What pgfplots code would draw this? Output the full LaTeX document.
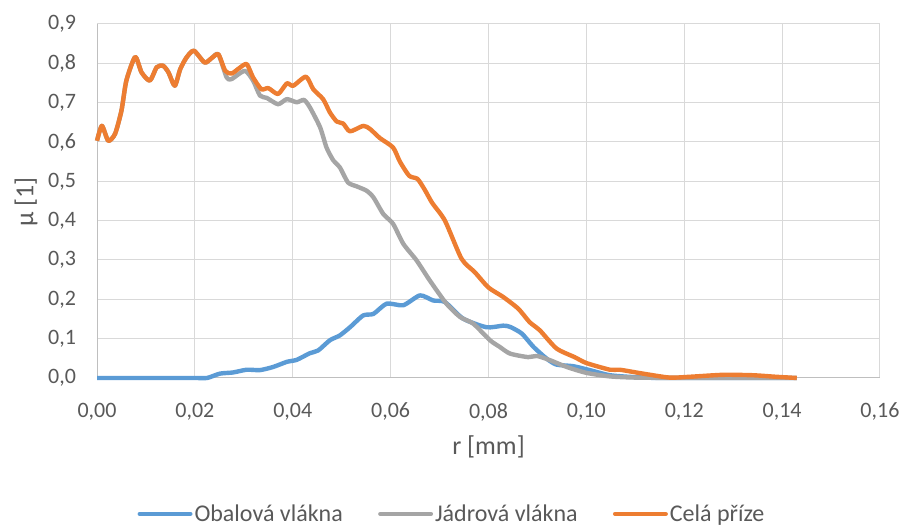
\documentclass[border=0pt]{standalone}
\usepackage{fontspec}
\setmainfont{Carlito}
\usepackage{pgfplots}
\pgfplotsset{compat=1.18}
\definecolor{obal}{HTML}{5B9BD5}
\definecolor{jadro}{HTML}{A5A5A5}
\definecolor{cela}{HTML}{ED7D31}
\definecolor{gridc}{HTML}{D9D9D9}
\definecolor{axc}{HTML}{BFBFBF}
\definecolor{txt}{HTML}{595959}

\begin{document}
\begin{tikzpicture}
\begin{axis}[
  scale only axis,
  width=587.25pt, height=265.5pt,
  xmin=0, xmax=0.16, ymin=0, ymax=0.9,
  xtick={0,0.02,...,0.16},
  ytick={0,0.1,...,0.9},
  xticklabel style={/pgf/number format/fixed, /pgf/number format/fixed zerofill,
    /pgf/number format/precision=2, /pgf/number format/use comma,
    anchor=center, yshift=-25.5pt},
  yticklabel style={/pgf/number format/fixed, /pgf/number format/fixed zerofill,
    /pgf/number format/precision=1, /pgf/number format/use comma, xshift=-12.3pt},
  scaled x ticks=false,
  /pgf/number format/assume math mode=true,
  tick label style={font=\fontsize{16.5}{19}\selectfont, text=txt},
  major tick length=0pt,
  grid=major, grid style={gridc, line width=0.75pt},
  axis x line=bottom, axis y line=left,
  axis line style={-, axc, line width=0.75pt},
  xlabel={r [mm]}, ylabel={μ [1]},
  label style={font=\fontsize{19.5}{22}\selectfont, text=txt},
  xlabel style={at={(axis description cs:0.5,-0.196)}, anchor=center},
  ylabel style={at={(axis description cs:-0.0907,0.497)}, anchor=center},
  legend columns=3,
  legend style={at={(axis description cs:0.4534,-0.384)}, anchor=center,
    draw=none, fill=none, inner sep=0pt,
    font=\fontsize{18}{21}\selectfont, text=txt,
    /tikz/every even column/.append style={column sep=25pt},
    nodes={inner sep=1.5pt}},
  legend image code/.code={\draw[#1, line width=3.2pt, line cap=round] (1.6pt,0pt) -- (39.6pt,0pt);},
  every axis plot/.append style={line width=3.3pt, line join=round, smooth, tension=0.4},
  clip=false,
]
% Obalova vlakna
\addplot[obal] coordinates {
(0,0)(0.005,0)(0.010,0)(0.015,0)(0.020,0)(0.0225,0)(0.0251,0.011)(0.0278,0.014)
(0.0306,0.021)(0.0333,0.020)(0.0360,0.028)(0.0388,0.041)(0.0408,0.046)(0.0435,0.063)
(0.0452,0.070)(0.0476,0.096)(0.0496,0.108)(0.0517,0.129)(0.0544,0.159)(0.0565,0.163)
(0.0592,0.189)(0.0626,0.185)(0.0660,0.210)(0.0687,0.197)(0.0711,0.193)(0.0748,0.151)
(0.0796,0.129)(0.0830,0.133)(0.0844,0.130)(0.0868,0.113)(0.0892,0.079)(0.0919,0.049)
(0.0939,0.034)(0.0973,0.030)(0.1007,0.020)(0.1048,0.007)(0.1100,0.002)(0.1150,0)
(0.1250,0)(0.1350,0)(0.1430,0)
};
% Jadrova vlakna
\addplot[jadro] coordinates {
(0,0.603)(0.0010,0.641)(0.0023,0.603)(0.0037,0.621)(0.0050,0.680)(0.0060,0.756)
(0.0078,0.816)(0.0091,0.777)(0.0108,0.756)(0.0122,0.790)(0.0135,0.794)(0.0146,0.777)
(0.0159,0.743)(0.0170,0.785)(0.0183,0.815)(0.0198,0.832)(0.0220,0.802)(0.0234,0.813)
(0.0248,0.823)(0.0265,0.764)(0.0275,0.760)(0.0302,0.781)(0.0319,0.756)(0.0333,0.718)
(0.0347,0.712)(0.0370,0.696)(0.0388,0.709)(0.0408,0.701)(0.0423,0.707)(0.0435,0.688)
(0.0456,0.637)(0.0469,0.586)(0.0483,0.553)(0.0496,0.536)(0.0513,0.497)(0.0531,0.487)
(0.0551,0.476)(0.0565,0.459)(0.0585,0.417)(0.0605,0.392)(0.0626,0.341)(0.0653,0.299)
(0.0680,0.248)(0.0714,0.189)(0.0742,0.155)(0.0769,0.138)(0.0803,0.096)(0.0823,0.079)
(0.0844,0.062)(0.0881,0.053)(0.0899,0.056)(0.0926,0.045)(0.0960,0.028)(0.1000,0.013)
(0.1048,0.004)(0.1100,0.001)(0.1200,0)(0.1300,0)(0.1430,0)
};
% Cela prize
\addplot[cela] coordinates {
(0,0.603)(0.0010,0.641)(0.0023,0.603)(0.0037,0.621)(0.0050,0.680)(0.0060,0.756)
(0.0078,0.816)(0.0091,0.777)(0.0108,0.756)(0.0122,0.790)(0.0135,0.794)(0.0146,0.777)
(0.0159,0.743)(0.0170,0.785)(0.0183,0.815)(0.0198,0.832)(0.0220,0.802)(0.0234,0.813)
(0.0248,0.823)(0.0262,0.781)(0.0275,0.774)(0.0292,0.789)(0.0306,0.798)(0.0319,0.764)
(0.0336,0.734)(0.0350,0.737)(0.0370,0.722)(0.0388,0.749)(0.0401,0.743)(0.0427,0.766)
(0.0442,0.734)(0.0462,0.709)(0.0476,0.675)(0.0490,0.652)(0.0503,0.647)(0.0517,0.627)
(0.0544,0.641)(0.0558,0.633)(0.0578,0.610)(0.0605,0.586)(0.0619,0.550)(0.0638,0.514)
(0.0655,0.506)(0.0670,0.478)(0.0685,0.445)(0.0711,0.400)(0.0745,0.303)(0.0772,0.269)
(0.0800,0.230)(0.0830,0.206)(0.0861,0.176)(0.0884,0.142)(0.0905,0.121)(0.0939,0.075)
(0.0976,0.053)(0.1000,0.038)(0.1048,0.021)(0.1068,0.021)(0.1116,0.011)(0.1170,0.001)
(0.1211,0.003)(0.1279,0.008)(0.1340,0.007)(0.1388,0.003)(0.1430,0)
};
\legend{Obalová vlákna, Jádrová vlákna, Celá příze}
\coordinate (bl) at (axis description cs:-0.1239,-0.4237);
\coordinate (tr) at (axis description cs:1.0307,1.0678);
\end{axis}
\pgfresetboundingbox
\path[use as bounding box] (bl) rectangle (tr);
\end{tikzpicture}
\end{document}
